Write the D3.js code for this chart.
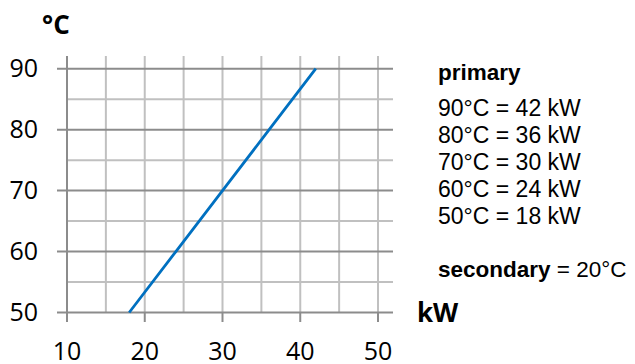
<!DOCTYPE html>
<html>
<head>
<meta charset="utf-8">
<script src="https://cdn.jsdelivr.net/npm/d3@7"></script>
<style>
  body { margin: 0; background: #fff; }
  svg { display: block; }
</style>
</head>
<body>
<div id="chart"></div>
<script>
// data
const power = [18, 24, 30, 36, 42];          // kW
const temp = [50, 60, 70, 80, 90];           // °C
const xTicks = [10, 20, 30, 40, 50];
const yTicks = [50, 60, 70, 80, 90];
const legendLines = ["90°C = 42 kW", "80°C = 36 kW", "70°C = 30 kW", "60°C = 24 kW", "50°C = 18 kW"];

const width = 635, height = 364;

let svg = d3.select("#chart")
    .append("svg")
    .attr("width", width)
    .attr("height", height);

let x = d3.scaleLinear().domain([10, 50]).range([67, 378]);
let y = d3.scaleLinear().domain([50, 90]).range([312.5, 68.7]);

const major = "#8c8c8c", minor = "#c0c0c0";
const tickFont = "'Open Sans', sans-serif";

// vertical grid lines every 5 kW
svg.selectAll(".vgrid")
    .data(d3.range(15, 51, 5))
    .join("line")
    .attr("x1", d => x(d)).attr("x2", d => x(d))
    .attr("y1", 56).attr("y2", y(50))
    .attr("stroke", minor)
    .attr("stroke-width", 2);

// horizontal minor lines
svg.selectAll(".hminor")
    .data([55, 65, 75, 85])
    .join("line")
    .attr("x1", x(10)).attr("x2", 393)
    .attr("y1", d => y(d)).attr("y2", d => y(d))
    .attr("stroke", minor)
    .attr("stroke-width", 2);

// horizontal major lines (with tick on the left)
svg.selectAll(".hmajor")
    .data(yTicks)
    .join("line")
    .attr("x1", 57).attr("x2", 393)
    .attr("y1", d => y(d)).attr("y2", d => y(d))
    .attr("stroke", major)
    .attr("stroke-width", 2);

// x ticks below the axis
svg.selectAll(".xtick")
    .data(xTicks.slice(1))
    .join("line")
    .attr("x1", d => x(d)).attr("x2", d => x(d))
    .attr("y1", y(50)).attr("y2", 322)
    .attr("stroke", major)
    .attr("stroke-width", 2);

// y axis
svg.append("line")
    .attr("x1", x(10)).attr("x2", x(10))
    .attr("y1", 56).attr("y2", 322)
    .attr("stroke", major)
    .attr("stroke-width", 2);

// tick labels
svg.selectAll(".ylab")
    .data(yTicks)
    .join("text")
    .attr("x", 38)
    .attr("y", d => y(d))
    .attr("dy", "0.35em")
    .attr("text-anchor", "end")
    .attr("font-family", tickFont)
    .attr("font-size", 25)
    .attr("fill", "#000")
    .text(d => d);

svg.selectAll(".xlab")
    .data(xTicks)
    .join("text")
    .attr("x", d => x(d))
    .attr("y", 360)
    .attr("text-anchor", "middle")
    .attr("font-family", tickFont)
    .attr("font-size", 25)
    .attr("fill", "#000")
    .text(d => d);

// axis titles
svg.append("text")
    .attr("x", 42).attr("y", 34)
    .attr("font-family", tickFont)
    .attr("font-weight", "bold")
    .attr("font-size", 26)
    .text("°C");

svg.append("text")
    .attr("x", 417).attr("y", 322)
    .attr("font-family", tickFont)
    .attr("font-weight", "bold")
    .attr("font-size", 26)
    .text("kW");

// the curve
let line = d3.line()
    .x((d, i) => x(power[i]))
    .y(d => y(d));

svg.append("path")
    .datum(temp)
    .attr("d", line)
    .attr("fill", "none")
    .attr("stroke", "#0070c0")
    .attr("stroke-width", 2.8);

// legend text
const legFont = "'Liberation Sans', Arial, sans-serif";

svg.append("text")
    .attr("x", 438).attr("y", 80)
    .attr("font-family", legFont)
    .attr("font-weight", "bold")
    .attr("font-size", 22.5)
    .text("primary");

svg.selectAll(".leg")
    .data(legendLines)
    .join("text")
    .attr("x", 438)
    .attr("y", (d, i) => 116 + i * 27)
    .attr("font-family", legFont)
    .attr("font-size", 23)
    .text(d => d);

let sec = svg.append("text")
    .attr("x", 438).attr("y", 277)
    .attr("font-family", legFont)
    .attr("font-size", 22.5);
sec.append("tspan").attr("font-weight", "bold").text("secondary");
sec.append("tspan").text(" = 20°C");
</script>
</body>
</html>
